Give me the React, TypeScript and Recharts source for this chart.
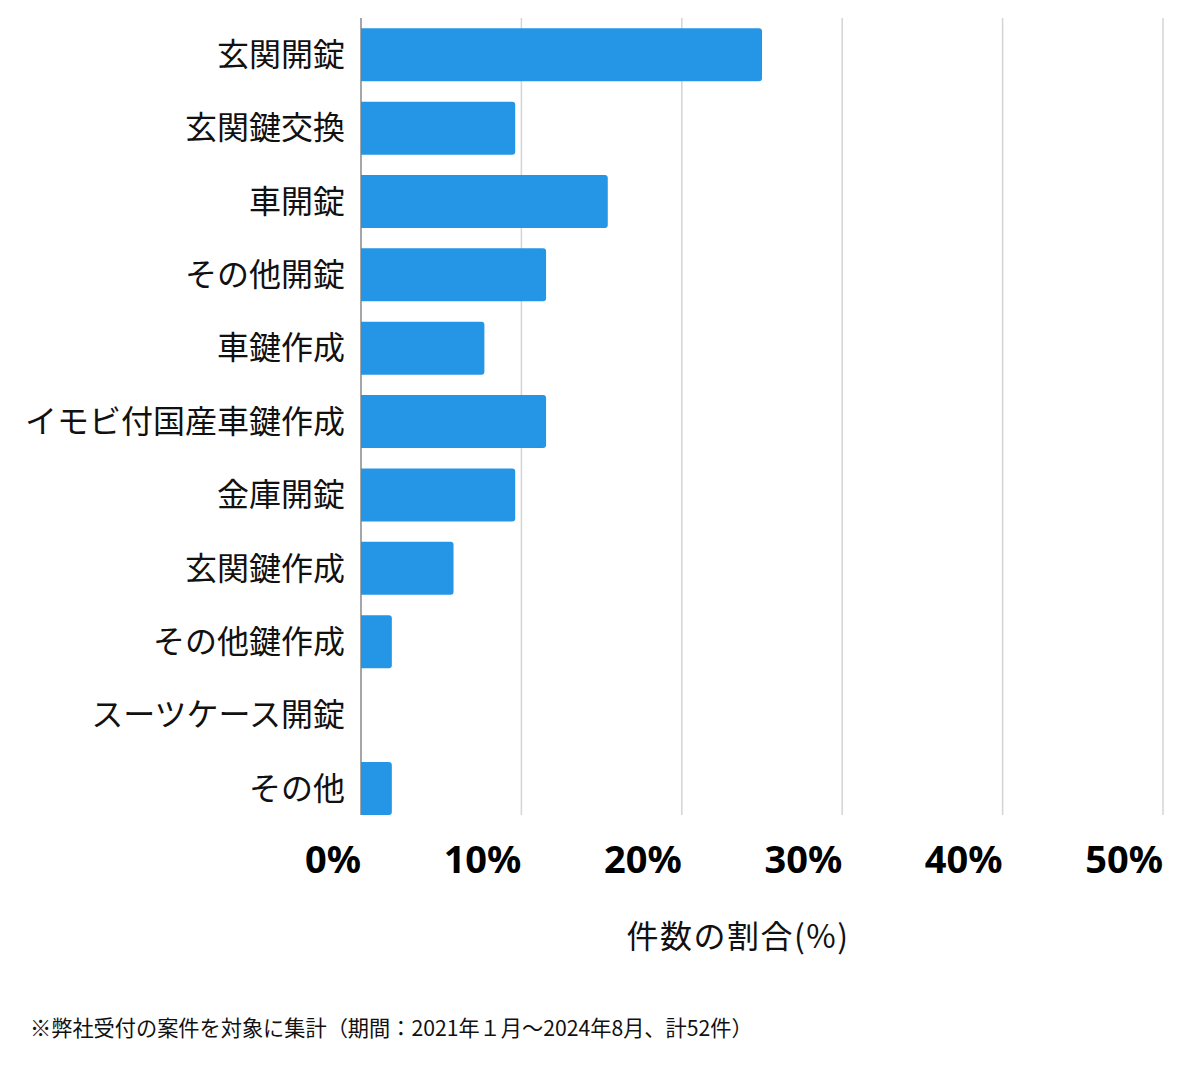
import React from 'react';
import { BarChart, Bar, XAxis, YAxis, CartesianGrid } from 'recharts';

const categories = [
  '玄関開錠', '玄関鍵交換', '車開錠', 'その他開錠', '車鍵作成',
  'イモビ付国産車鍵作成', '金庫開錠', '玄関鍵作成', 'その他鍵作成',
  'スーツケース開錠', 'その他',
];
const counts = [13, 5, 8, 6, 4, 6, 5, 3, 1, 0, 1];
const TOTAL = 52;
const xTicks = [0, 10, 20, 30, 40, 50];

const data = categories.map((name, i) => ({ name, pct: (counts[i] / TOTAL) * 100 }));

const JP = '"Noto Sans CJK JP", "Noto Sans", sans-serif';

const XTick = ({ x, y, payload }: any) => (
  <text x={x} y={y} dy={40} textAnchor="end" fontFamily='"Noto Sans", sans-serif'
    fontWeight={700} fontSize={38} fill="#000">
    {payload.value}%
  </text>
);

// grid lines stop at the bottom of the last bar; the 0% line doubles as the axis
const GridLine = (p: any) => (
  <line key={p.key} x1={p.x1} x2={p.x2} y1={p.y1} y2={p.y2 - 10}
    stroke={p.x1 < 365 ? '#888' : '#d4d4d4'} strokeWidth={1.5} />
);

export default function App() {
  return (
    <div style={{ position: 'absolute', left: 0, top: 0, width: 1200, height: 1069, background: '#fff', fontFamily: JP }}>
      <BarChart width={1200} height={910} data={data} layout="vertical"
        margin={{ top: 18, right: 37, left: 0, bottom: 0 }} barCategoryGap="14%">
        <CartesianGrid horizontal={false} vertical={GridLine} />
        <XAxis type="number" domain={[0, 50]} ticks={xTicks} axisLine={false} tickLine={false}
          tick={<XTick />} height={85} interval={0} />
        <YAxis type="category" dataKey="name" width={361} tickLine={false} tickSize={0} tickMargin={16}
          axisLine={false}
          tick={{ fontSize: 32, fill: '#111', fontFamily: JP }} interval={0} />
        <Bar dataKey="pct" fill="#2596e6" radius={[0, 3, 3, 0]} isAnimationActive={false} />
      </BarChart>
      <div style={{ position: 'absolute', left: 0, width: 1476, top: 912, textAlign: 'center', fontSize: 32, color: '#111', lineHeight: '44px', letterSpacing: 1.5 }}>
        件数の割合(%)
      </div>
      <div style={{ position: 'absolute', left: 30, top: 1013, fontSize: 21.2, color: '#111', lineHeight: '28px' }}>
        ※弊社受付の案件を対象に集計（期間：2021年１月～2024年8月、計52件）
      </div>
    </div>
  );
}
